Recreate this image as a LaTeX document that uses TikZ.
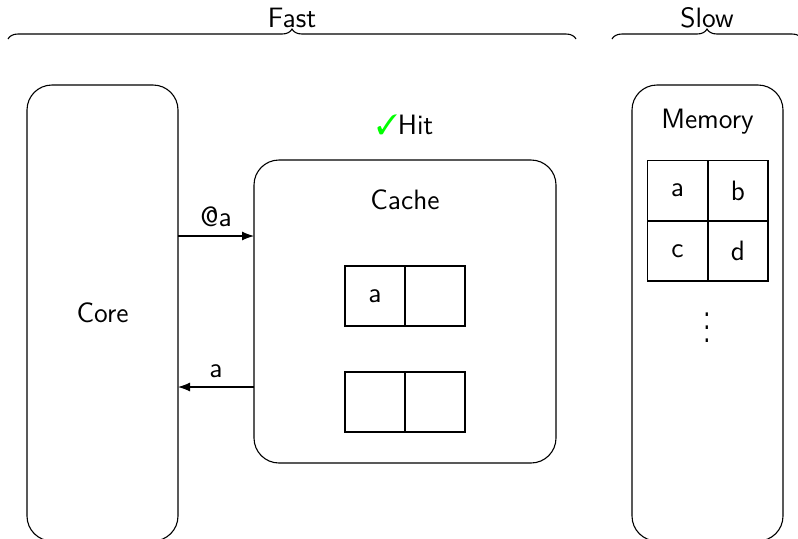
\documentclass[tikz,border=0pt]{standalone}
\usepackage{pifont}
\usetikzlibrary{arrows.meta,decorations.pathreplacing}
\renewcommand{\familydefault}{\sfdefault}
\begin{document}
\begin{tikzpicture}[x=0.5pt,y=-0.5pt,
  font=\fontsize{14}{17}\selectfont\sffamily,
  every path/.style={line width=0.55pt},
  box/.style={draw, rounded corners=12.5pt, inner sep=0pt},
  cell/.style={draw, minimum size=30pt, inner sep=0pt},
  arr/.style={-{Latex[length=6pt,width=4.5pt]}},
  brc/.style={decorate, decoration={brace, amplitude=5pt}}]
\useasboundingbox (0,0) rectangle (798,538);
% boxes
\node[box, minimum width=75.5pt, minimum height=228pt] (core) at (102.5,313) {};
\node (coretxt) at (102.5,313) {Core};
\node[box, minimum width=151pt, minimum height=151.5pt] (cache) at (405,311.5) {};
\node (cachetxt) at (405,200) {Cache};
\node[box, minimum width=75.5pt, minimum height=228pt] (mem) at (707.5,313) {};
\node (memtxt) at (707.5,122) {Memory};
\node (hit) at (405,125) {\textcolor{green}{\ding{51}}Hit};
% cache cells
\node[cell] (c1) at (375,296) {a};
\node[cell] (c2) at (435,296) {};
\node[cell] (c3) at (375,402) {};
\node[cell] (c4) at (435,402) {};
% memory cells
\node[cell] (m1) at (677.5,190.5) {a};
\node[cell] (m2) at (738,190.5) {b};
\node[cell] (m3) at (677.5,251) {c};
\node[cell] (m4) at (738,251) {d};
\node (dots) at (707,318) {\scalebox{1}[1.6]{$\vdots$}};
% arrows
\coordinate (a1s) at (178,236);
\coordinate (a1e) at (254,236);
\draw[arr] (a1s) -- node[above=1pt] {@a} (a1e);
\coordinate (a2s) at (254,387);
\coordinate (a2e) at (178,387);
\draw[arr] (a2s) -- node[above=1pt] {a} (a2e);
% braces
\coordinate (f1) at (8,39);
\coordinate (f2) at (576,39);
\draw[brc] (f1) -- (f2);
\node (fast) at (292,18) {Fast};
\coordinate (s1) at (612,39);
\coordinate (s2) at (802,39);
\draw[brc] (s1) -- (s2);
\node (slow) at (707,18) {Slow};
\end{tikzpicture}
\end{document}
